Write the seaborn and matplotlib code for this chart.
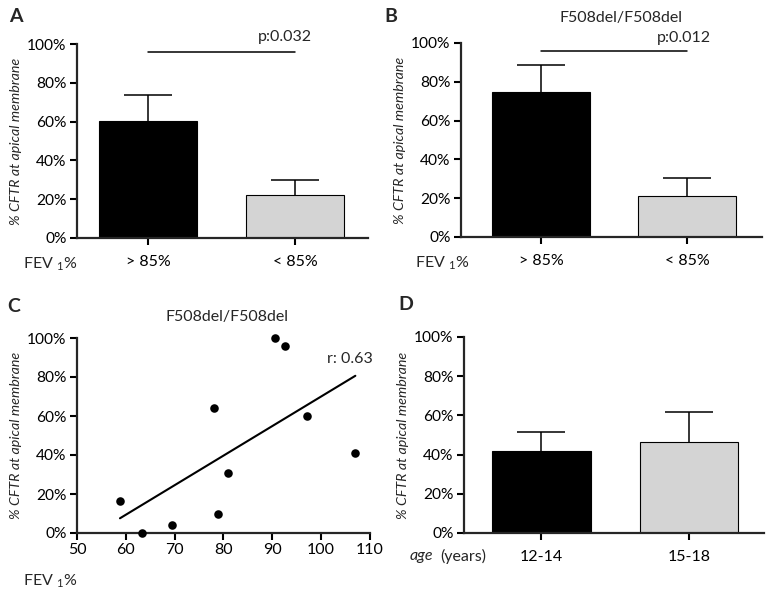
import numpy as np
import pandas as pd
import seaborn as sns
import matplotlib.pyplot as plt
from matplotlib.ticker import FuncFormatter

# panel A: all patients, by FEV1
a_groups = ['> 85%', '< 85%']
a_mean = [60.5, 22.0]
a_err = [13.0, 8.0]

# panel B: F508del/F508del, by FEV1
b_groups = ['> 85%', '< 85%']
b_mean = [74.5, 21.0]
b_err = [14.0, 9.5]

# panel C: F508del/F508del scatter
c_fev = [58.8, 63.4, 69.5, 78.0, 78.8, 81.0, 90.6, 92.5, 97.1, 107.0]
c_cftr = [16.2, 0.0, 4.3, 64.0, 9.9, 31.0, 100.0, 95.7, 60.0, 41.1]

# panel D: by age
d_groups = ['12-14', '15-18']
d_mean = [42.0, 46.5]
d_err = [9.5, 15.0]

bar_colors = ['black', '#d4d4d4']

sns.set_style('ticks')
plt.rcParams['font.family'] = ['Lato', 'DejaVu Sans']
plt.rcParams['mathtext.default'] = 'regular'

W, H = 768, 592
fig = plt.figure(figsize=(W / 100, H / 100), dpi=100)


def px_axes(left, right, top, bottom):
    return fig.add_axes([left / W, 1 - bottom / H, (right - left) / W, (bottom - top) / H])


def ftext(x, y, s, **kw):
    kw.setdefault('ha', 'center')
    kw.setdefault('va', 'center')
    kw.setdefault('fontsize', 11.5)
    fig.text(x / W, 1 - y / H, s, **kw)


pct = FuncFormatter(lambda v, p: f'{v:.0f}%')


def style_axes(ax, xtick_len=5, xpad=7):
    sns.despine(ax=ax)
    for s in ['left', 'bottom']:
        ax.spines[s].set_linewidth(1.6)
    ax.set_ylim(0, 100)
    ax.set_yticks([0, 20, 40, 60, 80, 100])
    ax.yaxis.set_major_formatter(pct)
    ax.tick_params(axis='y', length=5, width=1.5, labelsize=11.2, pad=2.5, colors='black')
    ax.tick_params(axis='x', length=xtick_len, width=1.5, labelsize=11.5, pad=xpad, colors='black')
    ax.set_ylabel('% CFTR at apical membrane', fontsize=10.3, style='italic', labelpad=4)
    ax.set_xlabel('')


def bar_panel(ax, groups, means, errs, xlim):
    df = pd.DataFrame({'group': groups, 'value': means})
    sns.barplot(data=df, x='group', y='value', hue='group', palette=bar_colors,
                width=0.667, edgecolor='black', linewidth=0.8, legend=False, ax=ax)
    _, caps, _ = ax.errorbar(x=range(len(groups)), y=means, yerr=[[0] * len(errs), errs],
                             fmt='none', ecolor='black', elinewidth=1.1, capsize=17, capthick=1.1)
    caps[0].set_visible(False)  # one-sided bars, no cap at the bar top
    ax.set_xlim(*xlim)
    style_axes(ax)


# A
axA = px_axes(77, 368, 44, 238)
bar_panel(axA, a_groups, a_mean, a_err, (-0.483, 1.497))
axA.plot([0, 1], [96, 96], color='black', lw=1.1, clip_on=False)
ftext(285, 37, 'p:0.032')
ftext(50, 264, 'FEV $_1$%')
ftext(16, 16, 'A', fontsize=14, fontweight='bold')

# B
axB = px_axes(461, 762, 43, 237)
bar_panel(axB, b_groups, b_mean, b_err, (-0.548, 1.514))
axB.plot([0, 1], [96, 96], color='black', lw=1.1, clip_on=False)
ftext(684, 38, 'p:0.012')
ftext(621, 18, 'F508del/F508del')
ftext(442, 263, 'FEV $_1$%')
ftext(391, 16, 'B', fontsize=14, fontweight='bold')

# C
axC = px_axes(77, 370, 338, 533)
df_c = pd.DataFrame({'fev': c_fev, 'cftr': c_cftr})
sns.regplot(data=df_c, x='fev', y='cftr', ci=None, truncate=True, ax=axC,
            scatter_kws={'color': 'black', 's': 38, 'alpha': 1, 'linewidths': 0,
                         'clip_on': False, 'zorder': 3},
            line_kws={'color': 'black', 'lw': 1.5})
axC.set_xlim(50, 110)
axC.set_xticks([50, 60, 70, 80, 90, 100, 110])
style_axes(axC, xtick_len=5, xpad=2)
ftext(350, 359, 'r: 0.63')
ftext(227, 317, 'F508del/F508del')
ftext(50, 581, 'FEV $_1$%')
ftext(14, 307, 'C', fontsize=14, fontweight='bold')

# D
axD = px_axes(464, 764, 337, 533)
bar_panel(axD, d_groups, d_mean, d_err, (-0.525, 1.508))
ftext(410, 556, 'age', style='italic', ha='left')
ftext(440, 556, '(years)', ha='left')
ftext(406, 305, 'D', fontsize=14, fontweight='bold')

fig.savefig('out.png', dpi=100)
